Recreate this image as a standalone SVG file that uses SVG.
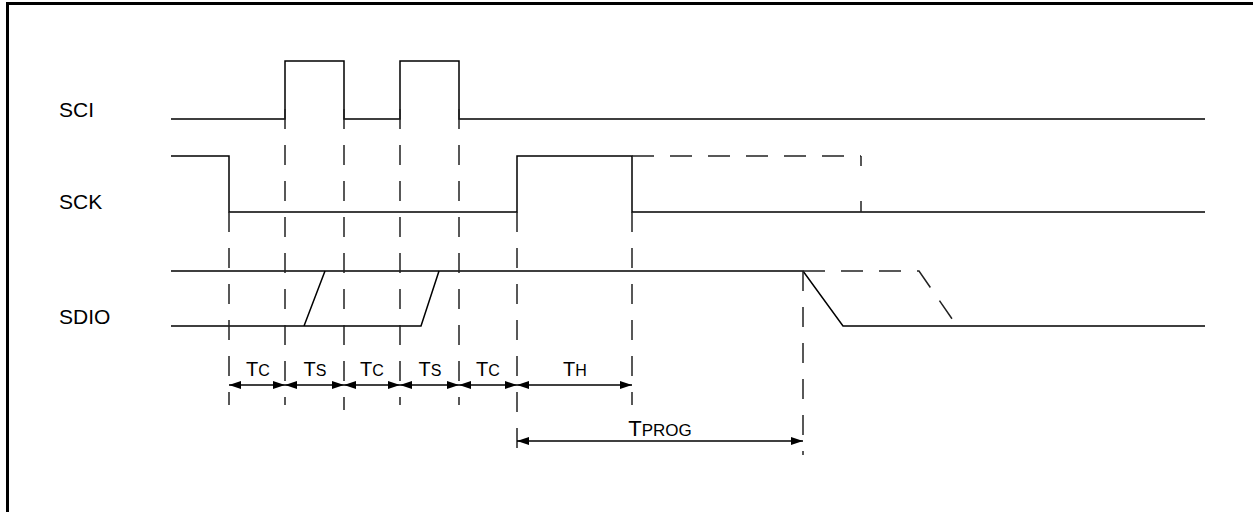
<svg xmlns="http://www.w3.org/2000/svg" width="1253" height="512" viewBox="0 0 1253 512">
<style>
.sig{fill:none;stroke:#000;stroke-width:1.5}
.dsh{fill:none;stroke:#222;stroke-width:1.5;stroke-dasharray:20 16}
.dshh{fill:none;stroke:#222;stroke-width:1.5;stroke-dasharray:22 16}
.arr{fill:none;stroke:#000;stroke-width:1.5;marker-start:url(#ah);marker-end:url(#ah)}
.lbl{font-family:"Liberation Sans",Arial,sans-serif;font-size:21px;fill:#000}
.tl{font-family:"Liberation Sans",Arial,sans-serif;fill:#000;text-anchor:middle}
.big{font-size:20px}
.sm{font-size:16px}
.big2{font-size:22px}
.sm2{font-size:17px}
</style>
<defs>
<marker id="ah" markerUnits="userSpaceOnUse" markerWidth="12" markerHeight="8" refX="12" refY="4" orient="auto-start-reverse" viewBox="0 0 12 8">
<path d="M0,0 L12,4 L0,8 z" fill="#000"/>
</marker>
</defs>
<rect x="0" y="0" width="1253" height="512" fill="#fff"/>
<rect id="frame" x="7.5" y="3.5" width="1260" height="520" fill="none" stroke="#000" stroke-width="3"/>
<g id="labels">
<text class="lbl" x="59" y="117">SCI</text>
<text class="lbl" x="59" y="209">SCK</text>
<text class="lbl" x="59" y="324">SDIO</text>
</g>
<g id="sci">
<path class="sig" d="M171,119 H285 V61 H344 V119 H400 V61 H459 V119 H1205"/>
</g>
<g id="sck">
<path class="sig" d="M171,156 H229 V212 H517 V156 H632 V212 H1205"/>
<path class="dshh" d="M632,156 H861"/>
<path class="sig" d="M861,156 V166 M861,201 V212" style="stroke:#222"/>
</g>
<g id="sdio">
<path class="sig" d="M171,271 H803 L843,326 H1205"/>
<path class="sig" d="M171,326 H421 L439,271 M304,326 L325,271"/>
<path class="dshh" d="M803,271 H919 L957,326"/>
</g>
<g id="guides">
<path class="dsh" d="M229,212 V405"/>
<path class="dsh" d="M285,109 V405"/>
<path class="dsh" d="M344,109 V410"/>
<path class="dsh" d="M400,109 V405"/>
<path class="dsh" d="M459,109 V405"/>
<path class="dsh" d="M517,212 V458"/>
<path class="dsh" d="M632,212 V405"/>
<path class="dsh" d="M803,271 V455"/>
</g>
<g id="connectors">
<line class="arr" x1="229" y1="385" x2="285" y2="385"/>
<line class="arr" x1="285" y1="385" x2="344" y2="385"/>
<line class="arr" x1="344" y1="385" x2="400" y2="385"/>
<line class="arr" x1="400" y1="385" x2="459" y2="385"/>
<line class="arr" x1="459" y1="385" x2="517" y2="385"/>
<line class="arr" x1="517" y1="385" x2="632" y2="385"/>
<line class="arr" x1="517" y1="441" x2="803" y2="441"/>
</g>
<g id="timing-labels">
<text class="tl" x="258" y="376"><tspan class="big">T</tspan><tspan class="sm">C</tspan></text>
<text class="tl" x="315" y="376"><tspan class="big">T</tspan><tspan class="sm">S</tspan></text>
<text class="tl" x="372" y="376"><tspan class="big">T</tspan><tspan class="sm">C</tspan></text>
<text class="tl" x="430" y="376"><tspan class="big">T</tspan><tspan class="sm">S</tspan></text>
<text class="tl" x="488" y="376"><tspan class="big">T</tspan><tspan class="sm">C</tspan></text>
<text class="tl" x="575" y="376"><tspan class="big">T</tspan><tspan class="sm">H</tspan></text>
<text class="tl" x="660" y="436"><tspan class="big2">T</tspan><tspan class="sm2">PROG</tspan></text>
</g>
</svg>
